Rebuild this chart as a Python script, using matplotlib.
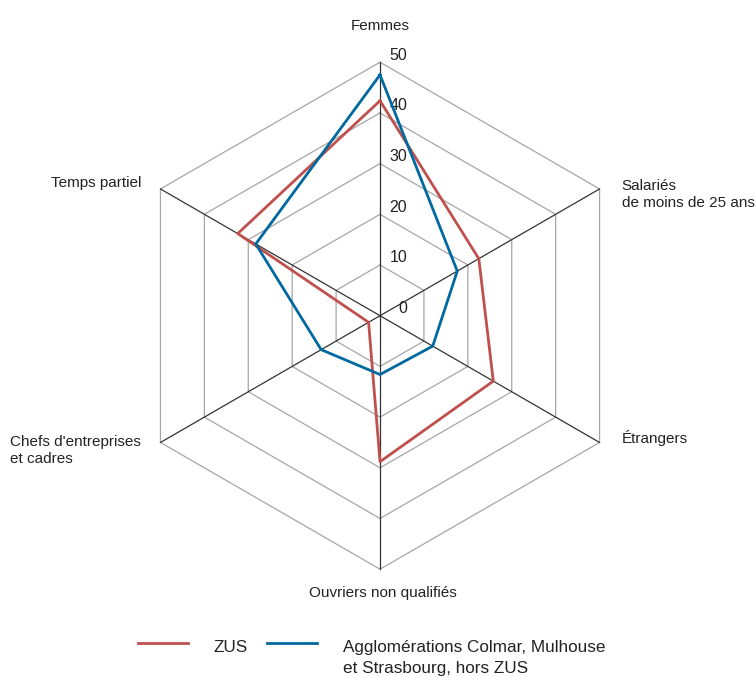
import numpy as np
import matplotlib.pyplot as plt

plt.rcParams["font.family"] = ["Liberation Sans", "DejaVu Sans"]

# Données (en %)
categories = [
    "Femmes",
    "Salariés\nde moins de 25 ans",
    "Étrangers",
    "Ouvriers non qualifiés",
    "Chefs d'entreprises\net cadres",
    "Temps partiel",
]
zus = [42.4, 22.5, 25.8, 28.8, 2.6, 32.4]
agglo = [47.5, 17.6, 12.0, 11.6, 13.4, 28.3]
ticks = [0, 10, 20, 30, 40, 50]
series_names = ["ZUS", "Agglomérations Colmar, Mulhouse\net Strasbourg, hors ZUS"]

RED = "#C0504D"
BLUE = "#0069A0"

# position des libellés d'axes (x, y de la dernière ligne de base, ha)
label_pos = [
    (0.0, 56.35, "center"),
    (47.7, 21.4, "left"),
    (47.7, -25.2, "left"),
    (0.5, -55.5, "center"),
    (-73.0, -29.1, "left"),
    (-47.0, 25.3, "right"),
]

n = len(categories)
theta = np.deg2rad(90 - 60 * np.arange(n))


def to_xy(vals):
    r = np.asarray(vals, dtype=float)
    x = r * np.cos(theta)
    y = r * np.sin(theta)
    return np.append(x, x[0]), np.append(y, y[0])


fig = plt.figure(figsize=(7.55, 6.77), dpi=100)
ax = fig.add_axes([0, 0, 1, 1])
ax.set_xlim(-74.95, 73.96)
ax.set_ylim(-71.26, 62.27)
ax.set_aspect("equal")
ax.axis("off")

# grille hexagonale
for t in ticks[1:]:
    gx, gy = to_xy([t] * n)
    ax.plot(gx, gy, color="#a6a6a6", lw=0.9, zorder=1)
for th in theta:
    ax.plot([0, 50 * np.cos(th)], [0, 50 * np.sin(th)], color="#333333", lw=0.9, zorder=2)

# graduations
for t in ticks:
    ax.text(5.35, t + 1.4, str(t), ha="right", va="center", fontsize=11.5, color="#222222")

# séries
x, y = to_xy(zus)
ax.plot(x, y, color=RED, lw=2.0, zorder=3)
x, y = to_xy(agglo)
ax.plot(x, y, color=BLUE, lw=2.0, zorder=4)

# libellés des axes
for lab, (lx, ly, ha) in zip(categories, label_pos):
    ax.text(lx, ly, lab, ha=ha, va="baseline", fontsize=11, color="#222222",
            multialignment="left", linespacing=1.3)

# légende (lignes placées à la main)
W, H = 755.0, 677.0
fig.add_artist(plt.Line2D([138 / W, 188 / W], [1 - 643.3 / H] * 2, color=RED, lw=2.0))
fig.text(213 / W, 1 - 652 / H, series_names[0], ha="left", va="baseline", fontsize=12.3,
         color="#222222")
fig.add_artist(plt.Line2D([266.7 / W, 316.7 / W], [1 - 643.3 / H] * 2, color=BLUE, lw=2.0))
for k, line in enumerate(series_names[1].split("\n")):
    fig.text(342.7 / W, 1 - (652 + 21.5 * k) / H, line, ha="left", va="baseline",
             fontsize=12.3, color="#222222")

fig.savefig("out.png", dpi=100)
plt.close(fig)
